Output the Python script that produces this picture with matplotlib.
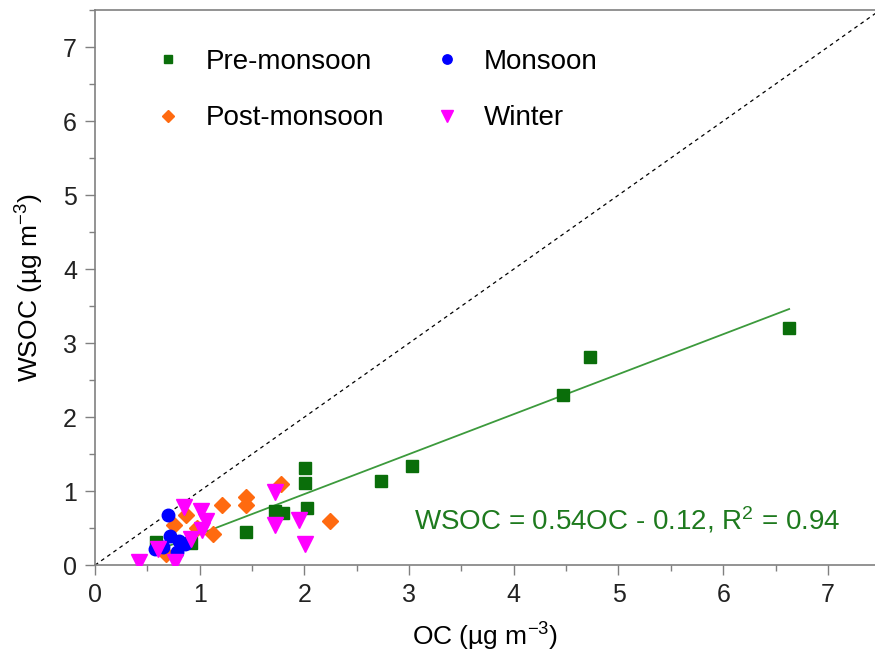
import numpy as np
import matplotlib
matplotlib.use("Agg")
import matplotlib.pyplot as plt
from matplotlib.ticker import MultipleLocator

plt.rcParams['font.family'] = ['Liberation Sans', 'DejaVu Sans']
plt.rcParams['mathtext.fontset'] = 'custom'
plt.rcParams['mathtext.rm'] = 'Liberation Sans'
plt.rcParams['mathtext.it'] = 'Liberation Sans:italic'

# Datos
pre_oc = [0.58, 0.92, 1.44, 1.72, 1.80, 2.01, 2.01, 2.02, 2.73, 3.03, 4.47, 4.73, 6.63]
pre_wsoc = [0.31, 0.30, 0.45, 0.73, 0.70, 1.31, 1.11, 0.77, 1.13, 1.34, 2.30, 2.81, 3.20]

mon_oc = [0.70, 0.72, 0.80, 0.57, 0.78, 0.86, 0.65]
mon_wsoc = [0.68, 0.40, 0.33, 0.22, 0.18, 0.28, 0.25]

post_oc = [0.68, 0.75, 0.87, 0.97, 1.13, 1.21, 1.44, 1.44, 1.78, 2.24]
post_wsoc = [0.15, 0.54, 0.68, 0.50, 0.42, 0.81, 0.92, 0.81, 1.10, 0.59]

win_oc = [0.42, 0.60, 0.76, 0.85, 0.92, 1.01, 1.06, 1.02, 1.72, 1.72, 1.95, 2.01]
win_wsoc = [0.04, 0.22, 0.04, 0.79, 0.35, 0.73, 0.59, 0.47, 0.99, 0.54, 0.61, 0.28]

# Ajuste lineal (pre-monzón)
pendiente, intercepto = 0.54, -0.12

fig = plt.figure(figsize=(8.75, 6.68), dpi=100)
ax = fig.add_axes([0.1086, 0.154, 0.8914, 0.831])

gris = '#808080'
ax.plot([0, 7.5], [0, 7.5], '--', color='black', lw=0.9, dashes=(3, 3), zorder=1)
xf = np.array([min(pre_oc), max(pre_oc)])
ax.plot(xf, pendiente * xf + intercepto, color='#3c9a3c', lw=1.3, zorder=2)

ax.plot(pre_oc, pre_wsoc, 's', color='#0a6e0a', ms=8, ls='none', label='Pre-monsoon', zorder=3)
ax.plot(post_oc, post_wsoc, 'D', color='#ff6a10', ms=8, ls='none', label='Post-monsoon', zorder=3)
ax.plot(mon_oc, mon_wsoc, 'o', color='#0000ff', ms=9, ls='none', label='Monsoon', zorder=3)
ax.plot(win_oc, win_wsoc, 'v', color='#ff00ff', ms=11, ls='none', label='Winter', zorder=4)

ax.set_xlim(0, 7.45)
ax.set_ylim(0, 7.5)
ax.xaxis.set_major_locator(MultipleLocator(1))
ax.xaxis.set_minor_locator(MultipleLocator(0.5))
ax.yaxis.set_major_locator(MultipleLocator(1))
ax.yaxis.set_minor_locator(MultipleLocator(0.5))
ax.tick_params(which='major', direction='out', length=7, width=1, color=gris,
               labelsize=18, pad=6, labelcolor='#222222')
ax.tick_params(which='minor', direction='out', length=4, width=1, color=gris)
for lado in ['left', 'bottom', 'top']:
    ax.spines[lado].set_color(gris)
    ax.spines[lado].set_linewidth(1.2)
ax.spines['right'].set_visible(False)

ax.set_xlabel('OC (µg m$^{-3}$)', fontsize=19, labelpad=10)
ax.set_ylabel('WSOC (µg m$^{-3}$)', fontsize=19, labelpad=12)

ax.text(3.05, 0.61, 'WSOC = 0.54OC - 0.12, R$^2$ = 0.94', color='#1e7a1e',
        fontsize=20, va='center')

leg = ax.legend(loc='upper left', bbox_to_anchor=(0.035, 0.975), ncol=2,
                frameon=False, fontsize=20, markerscale=0.75, labelspacing=1.1,
                columnspacing=1.5, handletextpad=0.6, handlelength=1.5)

fig.savefig('out.png', dpi=100)
